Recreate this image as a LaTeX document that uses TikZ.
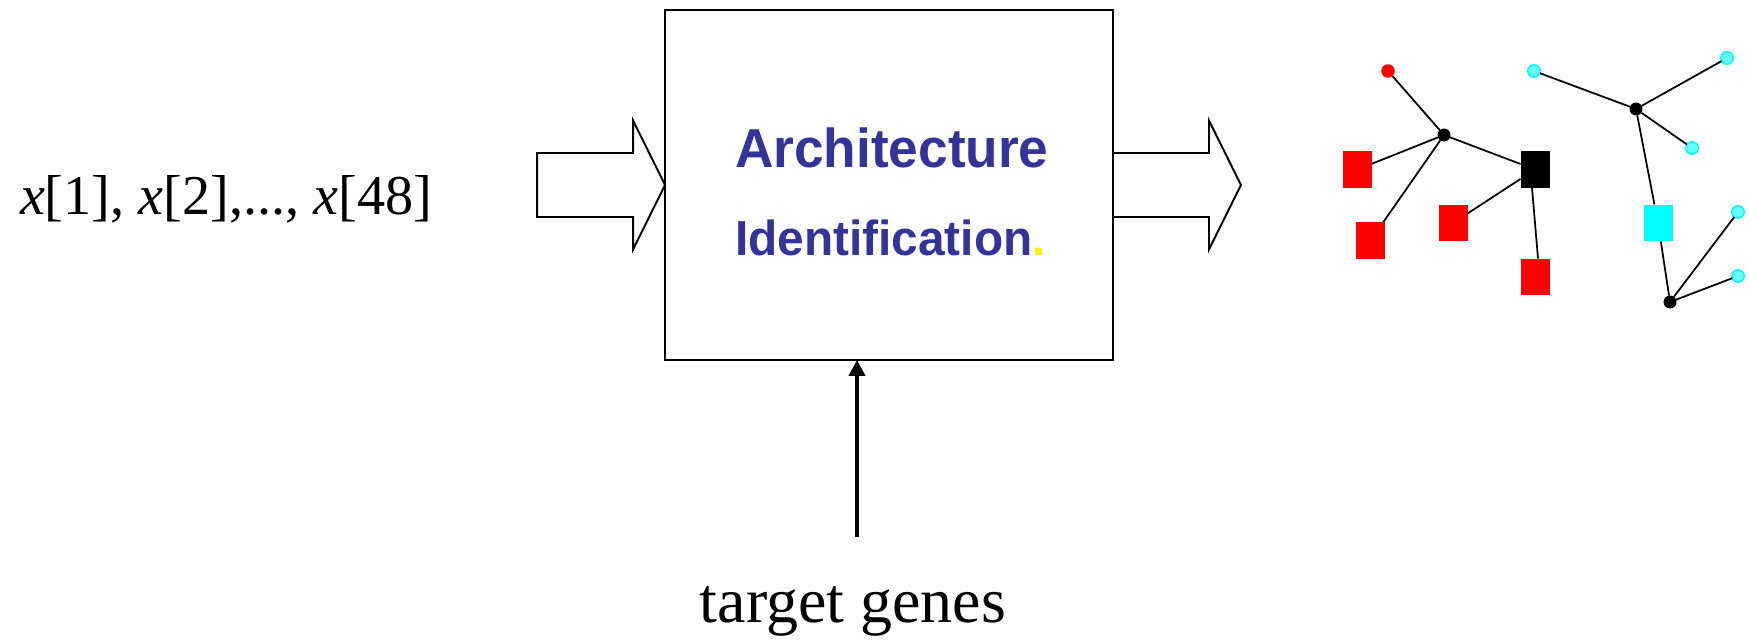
\documentclass[tikz,border=0pt]{standalone}
\usepackage{graphicx}
\usepackage{fontspec}
\setmainfont{Liberation Serif}
\newfontfamily\labelsans{Liberation Sans}
\usetikzlibrary{arrows.meta,calc}
\definecolor{archblue}{HTML}{333399}
\definecolor{leafcyan}{HTML}{66FFFF}
\definecolor{rimcyan}{HTML}{00FFFF}
\begin{document}
\begin{tikzpicture}[x=0.02cm,y=-0.02cm,
  every node/.style={inner sep=0pt, outer sep=0pt},
  block/.style={draw, line width=1.1pt, minimum width=8.96cm, minimum height=7cm},
  hollow/.style={draw, line width=1.1pt, line join=miter},
  edge/.style={line width=1pt},
  hub/.style={circle, fill=black, minimum size=0.26cm},
  redleaf/.style={circle, fill=red, minimum size=0.27cm},
  cyanleaf/.style={circle, fill=leafcyan, draw=rimcyan, line width=0.8pt, minimum size=0.25cm},
  gene/.style={rectangle, minimum width=0.58cm, minimum height=0.74cm},
]
\useasboundingbox (0,0) rectangle (1750,642);

% central block and its title
\node[block] (box) at (889,185) {};
\node[anchor=base west, text=archblue,
      font={\labelsans\bfseries\fontsize{30.3pt}{36pt}\selectfont}] (title1) at (735,167)
  {\scalebox{1}[1.03]{Architecture}};
\node[anchor=base west, text=archblue,
      font={\labelsans\bfseries\fontsize{27.2pt}{32pt}\selectfont}] (title2) at (735,255)
  {\scalebox{1}[1.03]{Identification\textcolor{yellow}{.}}};

% input data
\node[anchor=base west, font={\fontsize{32pt}{38pt}\selectfont}] (inputs) at (20,214)
  {\textit{x}[1], \textit{x}[2],..., \textit{x}[48]};

% hollow block arrows into and out of the block
\draw[hollow] (box.west) -- ++(-32,-64.5) -- ++(0,32.5) -- ++(-96,0) -- ++(0,64)
  -- ++(96,0) -- ++(0,32.5) -- cycle;
\draw[hollow] ($(box.east)+(0,-32)$) -- ++(96,0) -- ++(0,-32.5) -- ++(32,64.5)
  -- ++(-32,64.5) -- ++(0,-32.5) -- ++(-96,0);

% target genes feeding the block from below
\node[anchor=base, font={\fontsize{36.4pt}{42pt}\selectfont}] (genes) at (853,622) {target genes};
\coordinate (feed) at (857,537);
\draw[line width=2.8pt, -{Triangle[width=9pt,length=9pt]}] (feed) -- (feed |- box.south);

% resulting network: first component
\node[redleaf] (rc) at (1388,71) {};
\node[hub] (h1) at (1444,135) {};
\node[gene, fill=red] (ra) at (1357.5,169.5) {};
\node[gene, fill=red] (rb) at (1370.5,240.5) {};
\node[gene, fill=black] (bs) at (1535,169.5) {};
\node[gene, fill=red] (rm) at (1453,223) {};
\node[gene, fill=red] (rd) at (1535,277) {};
\draw[edge] (rc) -- (h1);
\draw[edge] (h1) -- (ra);
\draw[edge] (h1) -- (rb);
\draw[edge] (h1) -- (bs);
\draw[edge] (bs) -- (rm);
\draw[edge] ($(bs.south)+(-3,0)$) -- ($(rd.north)+(3,0)$);

% resulting network: second component
\node[cyanleaf] (c1) at (1534,71) {};
\node[hub] (h2) at (1636,109) {};
\node[cyanleaf] (c2) at (1727,58) {};
\node[cyanleaf] (c3) at (1692,148) {};
\node[gene, fill=rimcyan] (cs) at (1658,223) {};
\node[hub] (h3) at (1670,302) {};
\node[cyanleaf] (c4) at (1738,212) {};
\node[cyanleaf] (c5) at (1738,276) {};
\draw[edge] (c1) -- (h2);
\draw[edge] (h2) -- (c2);
\draw[edge] (h2) -- (c3);
\draw[edge] (h2) -- (cs);
\draw[edge] (cs) -- (h3);
\draw[edge] (h3) -- (c4);
\draw[edge] (h3) -- (c5);
\end{tikzpicture}
\end{document}
